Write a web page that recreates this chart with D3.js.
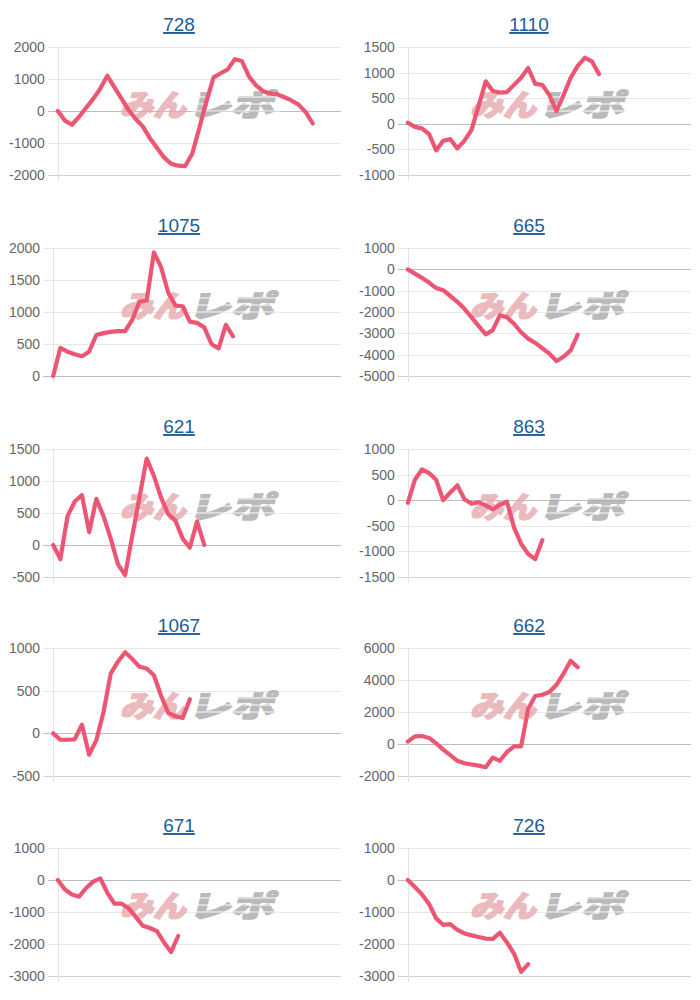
<!DOCTYPE html>
<html>
<head>
<meta charset="utf-8">
<script src="https://cdn.jsdelivr.net/npm/d3@7"></script>
<style>
body { margin: 0; background: #fff; }
svg { display: block; font-family: "Liberation Sans", Arial, sans-serif; }
</style>
</head>
<body>
<svg id="chart" width="700" height="1000"></svg>
<script>
// titles of the ten small charts, left to right, top to bottom
var titles = ["728", "1110", "1075", "665", "621", "863", "1067", "662", "671", "726"];

// series values (one point per slot)
var s728 = [0, -300, -430, -180, 100, 380, 700, 1100, 740, 390, 30, -250, -480, -850, -1150, -1450, -1650, -1710, -1720, -1330, -520, 300, 1050, 1180, 1300, 1620, 1560, 1080, 800, 620, 550, 520, 430, 330, 200, -30, -390];
var s1110 = [20, -60, -90, -200, -520, -330, -300, -480, -330, -120, 350, 830, 640, 610, 620, 760, 900, 1090, 780, 760, 560, 250, 560, 900, 1130, 1290, 1220, 970];
var s1075 = [0, 440, 380, 340, 310, 380, 640, 670, 690, 700, 700, 880, 1160, 1180, 1930, 1700, 1300, 1100, 1090, 850, 830, 760, 500, 430, 800, 620];
var s665 = [0, -200, -400, -620, -880, -980, -1250, -1520, -1850, -2250, -2650, -3050, -2850, -2150, -2250, -2550, -2950, -3250, -3450, -3700, -3950, -4300, -4100, -3800, -3060];
var s621 = [0, -220, 450, 680, 780, 200, 720, 450, 100, -300, -470, 150, 750, 1350, 1080, 740, 480, 380, 100, -40, 370, 0];
var s863 = [-50, 400, 600, 530, 400, 0, 150, 290, 20, -70, -40, -100, -180, -90, -30, -530, -850, -1050, -1150, -780];
var s1067 = [0, -75, -75, -70, 100, -250, -80, 250, 700, 840, 950, 870, 780, 760, 680, 440, 240, 200, 180, 400];
var s662 = [150, 480, 500, 380, 50, -350, -700, -1050, -1200, -1280, -1350, -1450, -850, -1050, -500, -150, -150, 2200, 3000, 3080, 3250, 3700, 4400, 5200, 4800];
var s671 = [0, -300, -450, -520, -250, -50, 50, -400, -740, -740, -880, -1150, -1430, -1500, -1600, -1950, -2250, -1750];
var s726 = [0, -220, -450, -750, -1200, -1400, -1380, -1560, -1670, -1730, -1780, -1830, -1840, -1650, -1950, -2300, -2870, -2630];

// y tick labels of each chart
var t728 = [2000, 1000, 0, -1000, -2000];
var t1110 = [1500, 1000, 500, 0, -500, -1000];
var t1075 = [2000, 1500, 1000, 500, 0];
var t665 = [1000, 0, -1000, -2000, -3000, -4000, -5000];
var t621 = [1500, 1000, 500, 0, -500];
var t863 = [1000, 500, 0, -500, -1000, -1500];
var t1067 = [1000, 500, 0, -500];
var t662 = [6000, 4000, 2000, 0, -2000];
var t671 = [1000, 0, -1000, -2000, -3000];
var t726 = [1000, 0, -1000, -2000, -3000];

var seriesList = [s728, s1110, s1075, s665, s621, s863, s1067, s662, s671, s726];
var tickList = [t728, t1110, t1075, t665, t621, t863, t1067, t662, t671, t726];

var X_SLOTS = 40;
var rowTop = [0, 201, 402, 601, 801];
var lineColor = "#ec5672";

var svg = d3.select("#chart");

// measure label widths so the axis sits right of the widest label
var probe = svg.append("text").attr("font-size", 14);
function textWidth(s) {
    probe.text(s);
    return probe.node().getComputedTextLength();
}

titles.forEach(function (title, i) {
    var col = i % 2;
    var row = Math.floor(i / 2);
    var px = col * 350;
    var py = rowTop[row];
    var values = seriesList[i];
    var ticks = tickList[i];

    var maxW = d3.max(ticks, function (t) { return textWidth(String(t)); });
    var left = px + 10 + maxW + 12;
    var right = px + 341;
    var top = py + 47;
    var bottom = py + 175;

    var g = svg.append("g");

    // title, like a link
    g.append("text")
        .attr("x", px + 179)
        .attr("y", py + 31)
        .attr("text-anchor", "middle")
        .attr("font-size", 19)
        .attr("fill", "#1c5d99")
        .attr("text-decoration", "underline")
        .text(title);

    var x = d3.scaleLinear().domain([0, X_SLOTS]).range([left, right]);
    var y = d3.scaleLinear().domain([d3.min(ticks), d3.max(ticks)]).range([bottom, top]);

    // horizontal grid lines with small tick marks on the left
    g.selectAll(".grid")
        .data(ticks)
        .enter()
        .append("line")
        .attr("x1", left - 10)
        .attr("x2", right)
        .attr("y1", function (d) { return Math.round(y(d)) + 0.5; })
        .attr("y2", function (d) { return Math.round(y(d)) + 0.5; })
        .attr("stroke", function (d) {
            if (d === 0) return "#bdbdbd";
            if (d === d3.min(ticks)) return "#d2d2d2";
            return "#e6e6e6";
        })
        .attr("stroke-width", 1);

    // vertical axis line
    g.append("line")
        .attr("x1", Math.round(left) + 0.5)
        .attr("x2", Math.round(left) + 0.5)
        .attr("y1", top)
        .attr("y2", bottom + 6)
        .attr("stroke", "#e3e3e3");

    // tick labels
    g.selectAll(".lbl")
        .data(ticks)
        .enter()
        .append("text")
        .attr("x", left - 13)
        .attr("y", function (d) { return y(d) + 5; })
        .attr("text-anchor", "end")
        .attr("font-size", 14)
        .attr("fill", "#666")
        .text(function (d) { return d; });

    // watermark logo
    var wm = g.append("g")
        .attr("transform", "translate(" + (px + 120) + "," + (py + 116) + ") skewX(-14)")
        .attr("opacity", 0.8);
    wm.append("text")
        .attr("x", 0)
        .attr("y", 0)
        .attr("font-family", "'Noto Sans CJK JP', sans-serif")
        .attr("font-weight", 900)
        .attr("font-size", 30)
        .attr("textLength", 66)
        .attr("lengthAdjust", "spacingAndGlyphs")
        .attr("fill", "#e7a9ad")
        .attr("stroke", "#e7a9ad")
        .attr("stroke-width", 1.6)
        .text("みん");
    wm.append("text")
        .attr("x", 68)
        .attr("y", 0)
        .attr("font-family", "'Noto Sans CJK JP', sans-serif")
        .attr("font-weight", 900)
        .attr("font-size", 30)
        .attr("textLength", 86)
        .attr("lengthAdjust", "spacingAndGlyphs")
        .attr("fill", "#a9a9a9")
        .attr("stroke", "#a9a9a9")
        .attr("stroke-width", 1.6)
        .text("レポ");
    // speed stripes through the grey part
    [-19, -12, -5].forEach(function (dy) {
        wm.append("line")
            .attr("x1", 70)
            .attr("x2", 160)
            .attr("y1", dy)
            .attr("y2", dy)
            .attr("stroke", "#fff")
            .attr("stroke-width", 1.2);
    });

    // the series line
    var line = d3.line()
        .x(function (d, k) { return x(k); })
        .y(function (d) { return y(d); });

    g.append("path")
        .datum(values)
        .attr("d", line)
        .attr("fill", "none")
        .attr("stroke", lineColor)
        .attr("stroke-width", 4.2)
        .attr("stroke-linejoin", "round")
        .attr("stroke-linecap", "round");
});

probe.remove();
</script>
</body>
</html>
